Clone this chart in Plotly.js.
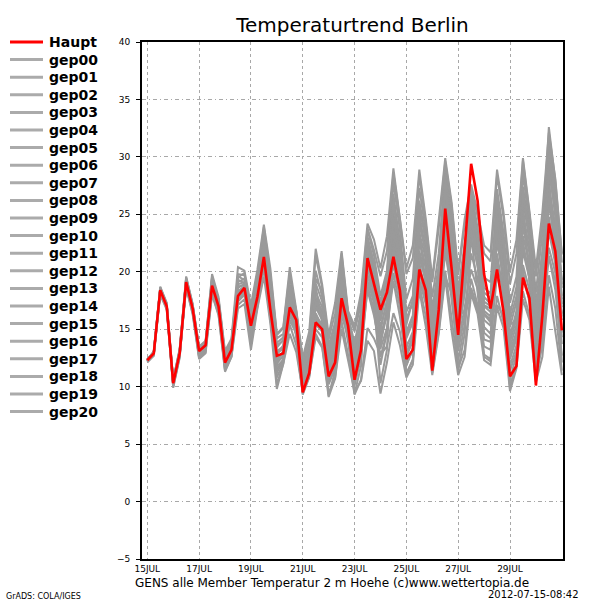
<!DOCTYPE html>
<html><head><meta charset="utf-8">
<script src="https://cdn.plot.ly/plotly-3.0.1.min.js"></script>
<style>html,body{margin:0;padding:0;background:#fff}#chart{width:600px;height:600px}</style>
</head><body><div id="chart"></div>
<script>
const stepHours = 6;
const tickHours = [0, 48, 96, 144, 192, 240, 288, 336];
const tickLabels = ['15JUL', '17JUL', '19JUL', '21JUL', '23JUL', '25JUL', '27JUL', '29JUL'];
const yTicks = [-5, 0, 5, 10, 15, 20, 25, 30, 35, 40];

const haupt = [12.3,12.9,18.4,17.0, 10.3,12.9,19.1,16.8, 13.1,13.6,18.8,17.0, 12.1,13.2,17.9,18.6, 15.3,17.8,21.3,16.7, 12.7,12.9,16.9,15.8, 9.5,11.2,15.6,15.0, 10.9,12.1,17.7,15.3, 10.6,13.2,21.2,19.0, 16.7,18.2,21.3,18.4, 12.4,13.2,20.2,18.4, 11.4,16.7,25.5,20.2, 14.5,22.0,29.4,26.2, 19.8,16.8,20.2,16.5, 10.9,11.8,19.5,17.7, 10.1,16.2,24.2,21.8, 14.9];

const gep00 = [12.3,12.9,18.5,17.1, 10.4,13.0,19.2,16.9, 13.0,13.5,18.9,17.1, 12.2,13.3,18.2,18.8, 15.1,17.6,21.6,17.0, 12.4,13.1,17.4,15.5, 10.1,11.8,16.4,15.2, 11.3,12.8,18.3,14.9, 11.6,14.1,20.4,18.1, 15.2,17.3,22.6,19.5, 13.6,14.5,21.4,19.2, 13.0,17.2,24.1,19.8, 15.6,19.8,25.2,22.1, 17.4,17.0,22.5,19.6, 13.2,14.6,21.8,19.4, 13.5,17.2,23.5,20.7, 15.8];
const gep01 = [12.2,12.8,18.1,16.8, 10.1,12.7,18.8,16.5, 12.7,13.2,18.3,16.6, 11.7,12.9,17.4,18.0, 14.6,17.3,20.8,16.2, 11.5,12.4,16.2,14.8, 9.8,11.0,15.0,14.3, 10.2,11.6,16.8,13.9, 10.1,12.5,18.8,16.7, 11.9,14.8,19.9,16.9, 11.8,13.4,19.3,17.2, 12.6,15.8,21.7,18.3, 13.8,16.9,20.2,18.5, 14.1,13.9,19.8,17.2, 11.4,13.1,20.6,18.4, 12.8,16.3,22.1,19.9, 13.7];
const gep02 = [12.4,13.0,18.7,17.3, 10.6,13.3,19.6,17.2, 13.5,14.0,19.6,17.6, 12.9,14.0,19.8,19.7, 16.4,19.2,23.6,19.4, 14.2,14.6,19.6,16.3, 11.6,13.4,20.1,17.8, 13.2,15.3,21.2,16.2, 13.8,16.6,23.7,21.4, 17.9,20.1,27.8,23.6, 17.6,19.4,27.3,23.4, 17.8,21.6,28.9,24.8, 18.4,22.3,26.5,23.6, 19.5,19.1,26.2,22.8, 16.3,18.7,27.4,23.3, 17.2,21.8,29.6,25.4, 19.3];
const gep03 = [12.3,12.9,18.2,17.0, 10.2,12.8,18.9,16.6, 12.9,13.4,18.5,16.8, 12.0,13.0,17.6,18.3, 15.8,18.0,20.2,16.0, 10.8,12.1,15.4,13.6, 9.4,10.9,14.6,13.5, 9.4,10.8,15.7,12.8, 9.3,10.6,15.1,14.2, 12.8,13.5,16.4,14.8, 11.2,12.3,18.9,16.1, 11.3,14.8,20.1,15.9, 11.6,13.2,18.6,16.8, 12.8,12.4,17.9,15.6, 10.1,11.9,18.3,16.2, 10.9,13.6,19.7,16.8, 11.4];
const gep04 = [12.2,13.0,18.6,17.2, 10.5,13.1,19.4,17.0, 13.3,13.8,19.2,17.4, 12.6,13.7,19.1,19.4, 16.9,19.4,22.8,18.1, 13.4,14.1,18.3,16.1, 10.6,12.4,17.8,16.4, 12.1,13.9,19.6,15.8, 12.7,15.4,22.6,20.3, 16.3,18.9,25.1,21.7, 14.8,16.2,24.6,22.1, 15.1,19.3,27.4,23.1, 17.2,20.6,24.1,21.3, 16.4,15.8,23.4,20.5, 14.6,16.1,24.7,21.6, 15.3,19.2,27.1,23.5, 17.6];
const gep05 = [12.1,12.7,18.4,16.9, 9.9,12.5,19.0,16.7, 12.5,13.0,19.4,16.9, 11.4,12.6,18.6,18.9, 13.6,17.1,22.4,17.4, 10.2,12.0,18.4,14.2, 9.3,10.8,18.7,15.6, 9.2,11.4,19.3,14.1, 9.4,11.8,21.8,17.6, 10.3,13.2,24.3,19.1, 11.0,12.4,23.5,18.6, 11.2,15.3,25.8,19.4, 11.4,14.6,23.2,18.2, 12.6,12.2,24.6,18.3, 9.8,12.0,25.9,19.1, 10.6,14.2,28.4,20.6, 12.1];
const gep06 = [12.4,12.9,18.3,17.0, 10.3,12.9,19.0,16.8, 13.2,13.6,18.6,17.2, 12.3,13.4,18.4,18.5, 15.6,18.3,22.1,17.8, 13.1,13.5,17.9,15.9, 10.8,12.6,16.9,15.8, 11.8,13.4,17.2,14.6, 12.3,14.7,19.2,17.3, 14.6,16.1,20.8,17.6, 13.0,14.1,22.6,20.3, 16.4,18.9,26.6,21.4, 14.9,18.1,22.8,20.6, 15.2,14.6,21.6,17.9, 12.4,14.2,23.1,20.8, 14.4,18.6,25.9,22.6, 16.3];
const gep07 = [12.3,13.1,18.5,17.2, 10.6,13.2,19.3,17.1, 13.4,13.9,19.0,17.3, 12.5,13.6,18.9,19.1, 16.2,18.6,22.9,18.6, 13.8,14.3,18.9,16.6, 11.9,13.8,19.4,18.3, 13.6,15.6,20.4,16.4, 14.8,17.2,19.6,18.5, 17.6,19.2,20.4,18.8, 16.8,16.9,18.7,17.9, 17.3,17.5,19.6,18.1, 16.7,16.3,18.2,16.6, 16.2,15.9,17.1,16.2, 15.4,15.8,19.3,17.6, 15.6,17.9,21.3,19.2, 16.4];
const gep08 = [12.2,12.8,18.3,16.9, 10.2,12.8,19.1,16.8, 13.1,13.5,18.7,16.9, 11.9,13.0,17.8,18.4, 14.9,17.6,21.0,16.5, 12.0,12.7,17.1,15.2, 10.4,12.0,16.2,15.4, 10.8,12.3,17.9,15.1, 11.1,13.6,20.9,18.8, 14.0,16.6,23.1,20.3, 12.6,14.0,21.8,19.6, 14.2,18.0,24.6,20.7, 16.1,20.9,27.1,23.8, 18.6,18.1,25.3,21.7, 15.8,17.9,28.6,24.1, 18.2,23.4,32.6,27.9, 21.5];
const gep09 = [12.3,12.8,18.4,17.1, 10.3,12.9,18.7,16.4, 12.6,13.1,18.1,16.3, 11.5,12.7,17.1,17.6, 14.2,16.9,20.4,15.8, 11.2,12.3,16.6,14.5, 10.0,11.5,17.3,15.9, 11.6,13.1,18.6,15.6, 11.9,14.4,22.4,19.6, 13.6,16.9,26.8,22.4, 15.4,17.6,25.2,21.3, 12.4,16.1,23.2,18.8, 13.1,16.2,21.6,19.4, 14.7,14.2,20.8,18.6, 12.8,14.8,22.3,19.8, 12.1,15.4,24.8,21.2, 14.3];
const gep10 = [12.4,13.0,18.6,17.1, 10.4,13.0,19.3,16.9, 13.2,13.8,19.5,17.6, 12.8,13.9,19.5,19.9, 16.6,19.6,23.9,19.8, 14.5,15.1,19.9,16.5, 12.2,14.3,21.4,18.6, 14.1,16.4,21.6,16.3, 15.1,17.6,23.8,21.9, 19.6,21.8,28.6,24.6, 19.8,21.2,28.4,24.2, 19.1,23.8,29.6,25.7, 19.7,24.1,27.3,24.8, 21.6,20.9,28.4,24.7, 18.9,21.6,29.7,25.1, 19.6,24.3,31.4,27.2, 20.8];
const gep11 = [12.2,12.7,18.0,16.7, 10.0,12.6,18.6,16.3, 12.4,12.9,18.0,16.2, 11.3,12.6,16.8,17.2, 13.2,16.8,19.6,15.5, 9.8,12.0,14.6,13.0, 9.6,10.9,14.3,13.4, 9.1,10.7,15.0,12.2, 9.6,10.5,14.0,13.1, 9.4,12.1,15.6,13.6, 10.8,11.9,18.4,15.2, 11.0,14.6,19.5,14.8, 11.0,12.6,18.1,16.3, 12.3,11.9,16.9,15.1, 9.6,11.6,17.6,15.8, 10.4,12.6,18.7,14.8, 11.0];
const gep12 = [12.3,12.9,18.4,17.0, 10.4,13.1,19.2,16.9, 13.0,13.6,18.9,17.0, 12.4,13.5,18.7,18.9, 15.9,18.8,22.5,18.3, 12.8,13.6,18.1,15.7, 10.9,12.8,18.2,16.9, 12.6,14.6,20.1,16.0, 13.2,15.8,23.1,20.6, 16.9,19.6,26.1,22.6, 15.9,17.4,26.2,22.8, 16.8,20.6,28.1,24.2, 17.9,21.4,25.8,22.8, 17.8,17.2,27.2,23.4, 17.3,19.6,28.9,24.6, 16.6,20.6,30.8,26.6, 18.6];
const gep13 = [12.3,12.8,18.2,16.9, 10.2,12.8,18.9,16.7, 12.9,13.4,18.6,16.9, 12.1,13.1,17.5,18.2, 15.4,17.7,21.4,17.1, 12.2,12.6,16.4,15.3, 9.7,11.3,15.4,14.8, 10.6,12.0,16.2,14.4, 10.4,12.9,19.8,17.4, 12.6,14.7,21.6,18.2, 11.9,13.2,20.8,18.1, 11.6,15.9,22.6,17.6, 12.3,15.4,19.4,17.1, 13.5,13.2,21.3,17.9, 10.6,12.8,20.1,17.3, 11.6,14.9,21.4,18.4, 12.7];
const gep14 = [12.2,12.9,18.5,17.1, 10.3,12.9,19.4,17.1, 13.4,13.9,19.8,17.8, 13.1,14.2,20.4,20.1, 17.1,20.2,24.1,20.3, 14.6,15.2,20.4,16.7, 12.5,14.8,22.0,18.9, 14.5,17.3,21.8,16.6, 15.3,18.2,24.2,22.8, 20.3,23.1,29.0,24.7, 20.3,22.3,28.9,24.6, 19.4,24.5,29.9,26.0, 20.0,24.6,27.6,25.2, 22.3,21.7,28.9,25.2, 20.0,22.8,29.9,25.3, 20.3,25.2,32.1,28.1, 21.6];
const gep15 = [12.4,13.0,18.6,17.2, 10.5,13.2,19.5,17.2, 13.3,13.7,18.9,17.2, 12.5,13.6,19.3,19.0, 15.7,17.9,22.2,17.7, 12.9,13.3,17.6,16.0, 11.2,12.9,17.6,16.6, 12.4,14.2,19.1,15.4, 12.9,15.0,21.4,19.2, 15.7,18.4,24.4,21.0, 14.2,15.6,23.4,21.1, 13.9,18.1,25.6,21.9, 16.6,20.4,26.1,23.0, 17.0,16.5,24.2,21.1, 13.9,15.9,26.3,22.7, 14.9,19.9,29.3,24.8, 17.2];
const gep16 = [12.3,12.9,18.3,16.9, 10.1,12.7,18.9,16.7, 12.8,13.3,18.4,16.6, 11.8,12.9,17.7,18.1, 14.8,17.4,20.7,16.3, 11.8,12.3,15.8,14.6, 10.3,11.6,16.1,14.9, 11.1,12.6,17.4,14.8, 11.3,13.4,18.4,16.2, 13.3,15.1,19.2,16.1, 12.2,13.1,20.1,17.4, 12.1,16.4,23.7,19.1, 14.4,18.2,23.8,20.4, 15.8,15.3,22.9,19.2, 11.8,13.6,22.6,19.4, 13.1,17.6,26.1,22.1, 14.7];
const gep17 = [12.2,12.8,18.4,17.0, 10.3,12.9,19.1,16.9, 13.2,13.7,19.1,17.3, 12.7,13.8,19.6,19.3, 16.1,18.7,23.1,18.9, 13.6,14.0,18.7,16.2, 11.4,13.1,19.0,17.4, 12.9,14.8,20.6,15.9, 13.5,16.1,22.9,20.8, 17.2,19.8,25.9,22.2, 16.5,17.9,25.7,22.6, 16.1,20.2,27.9,23.6, 17.6,21.8,25.2,22.2, 18.2,17.7,25.8,22.1, 15.2,17.4,27.2,23.4, 16.9,21.5,29.9,26.1, 18.9];
const gep18 = [12.3,12.9,18.5,17.0, 10.2,12.8,18.8,16.6, 12.9,13.3,18.4,16.7, 12.0,13.2,18.3,18.5, 15.3,18.1,21.8,17.3, 12.5,13.0,17.2,15.3, 10.2,12.1,17.0,16.1, 11.9,13.7,18.9,15.5, 11.8,14.3,21.1,18.4, 14.8,17.6,23.8,20.6, 13.4,14.8,22.9,20.4, 14.7,18.6,26.1,22.1, 15.8,19.3,24.4,21.7, 16.6,16.1,24.9,20.8, 13.4,15.4,25.2,21.9, 14.1,18.4,27.6,23.9, 16.9];
const gep19 = [12.4,13.0,18.6,17.2, 10.4,13.0,19.1,16.8, 13.1,13.5,18.7,16.8, 12.2,13.3,18.0,18.6, 15.0,17.6,21.2,16.9, 12.3,12.9,16.8,15.6, 9.9,11.6,15.8,15.3, 10.4,11.9,17.1,14.6, 10.8,13.3,20.6,18.2, 13.9,16.2,22.1,19.4, 12.9,14.4,21.2,19.4, 13.6,17.4,24.9,20.6, 14.8,19.2,24.6,21.4, 16.3,15.6,23.7,20.3, 12.9,14.5,24.1,20.6, 13.8,18.1,26.8,23.2, 16.1];
const gep20 = [12.3,12.9,18.4,17.1, 10.5,13.1,19.0,16.8, 13.2,13.7,18.9,17.1, 12.4,13.4,18.3,18.7, 15.5,18.2,22.3,17.6, 12.9,13.4,17.8,15.9, 10.7,12.4,17.4,16.3, 12.2,14.0,19.4,15.7, 12.5,15.1,22.1,19.8, 15.9,18.5,24.7,21.2, 14.5,16.0,24.1,21.7, 15.6,19.6,27.2,22.6, 16.4,20.2,25.6,22.7, 17.1,16.8,26.4,22.5, 14.3,16.6,26.9,22.9, 15.8,20.3,28.8,25.1, 17.9];

const memberNames = ['gep00','gep01','gep02','gep03','gep04','gep05','gep06','gep07','gep08','gep09','gep10','gep11','gep12','gep13','gep14','gep15','gep16','gep17','gep18','gep19','gep20'];
const memberValues = [gep00,gep01,gep02,gep03,gep04,gep05,gep06,gep07,gep08,gep09,gep10,gep11,gep12,gep13,gep14,gep15,gep16,gep17,gep18,gep19,gep20];

const hauptColor = '#ff0000';
const memberColor = '#9a9a9a';
const legendMemberColor = '#ababab';

const hours = haupt.map((_, i) => i * stepHours);

const traces = memberValues.map((vals, k) => ({
  x: hours, y: vals, type: 'scatter', mode: 'lines', name: memberNames[k],
  line: {color: memberColor, width: 2}, showlegend: false, hoverinfo: 'skip'
}));
traces.push({
  x: hours, y: haupt, type: 'scatter', mode: 'lines', name: 'Haupt',
  line: {color: hauptColor, width: 2.6}, showlegend: false
});

const plotL = 142, plotR = 563, plotT = 42, plotB = 559;
const pw = plotR - plotL, ph = plotB - plotT;
const px = X => (X - plotL) / pw;
const py = Y => (plotB - Y) / ph;

// hand-drawn legend block on the left (GrADS style)
const legendNames = ['Haupt'].concat(memberNames);
const legendColors = [hauptColor].concat(memberNames.map(() => legendMemberColor));
const rowTop = 42, rowStep = 17.6;
const legendShapes = legendNames.map((n, k) => ({
  type: 'line', xref: 'paper', yref: 'paper',
  x0: px(10), x1: px(43), y0: py(rowTop + k * rowStep), y1: py(rowTop + k * rowStep),
  line: {color: legendColors[k], width: 3}
}));
const legendTexts = legendNames.map((n, k) => ({
  text: n, xref: 'paper', yref: 'paper', x: px(47), y: py(rowTop + k * rowStep),
  xanchor: 'left', yanchor: 'middle', showarrow: false,
  font: {family: 'DejaVu Sans', size: 14, weight: 'bold', color: '#000'}
}));

const layout = {
  width: 600, height: 600,
  paper_bgcolor: '#ffffff', plot_bgcolor: '#ffffff',
  margin: {l: plotL, r: 600 - plotR, t: plotT, b: 600 - plotB, pad: 0},
  font: {family: 'DejaVu Sans', color: '#000000'},
  title: {text: 'Temperaturtrend Berlin', font: {family: 'DejaVu Sans', size: 20, color: '#000'},
          xref: 'paper', x: 0.5, xanchor: 'center', yref: 'container', y: 1 - 25 / 600, yanchor: 'middle'},
  showlegend: false,
  xaxis: {range: [-4.9, 385.1], tickvals: tickHours, ticktext: tickLabels,
          showgrid: true, gridcolor: '#a8a8a8', gridwidth: 1, griddash: 'dot',
          zeroline: false, showline: true, mirror: true, linecolor: '#000', linewidth: 2,
          ticks: '', tickfont: {family: 'DejaVu Sans', size: 9, color: '#000'}},
  yaxis: {range: [-5, 40], tickvals: yTicks, ticktext: yTicks.map(v => v < 0 ? '\u2212' + Math.abs(v) : String(v)),
          showgrid: true, gridcolor: '#a8a8a8', gridwidth: 1, griddash: '4px,3px,1px,3px',
          zeroline: false, showline: true, mirror: true, linecolor: '#000', linewidth: 2,
          ticks: 'outside', ticklen: 4, tickcolor: '#000', tickwidth: 1, ticklabelstandoff: 4,
          tickfont: {family: 'DejaVu Sans', size: 9, color: '#000'}},
  shapes: legendShapes,
  annotations: legendTexts.concat([
    {text: 'GENS alle Member Temperatur 2 m Hoehe (c)www.wettertopia.de', xref: 'paper', yref: 'paper',
     x: px(332), y: py(583), xanchor: 'center', yanchor: 'middle', showarrow: false,
     font: {family: 'DejaVu Sans', size: 12, color: '#000'}},
    {text: 'GrADS: COLA/IGES', xref: 'paper', yref: 'paper', x: px(4), y: py(596),
     xanchor: 'left', yanchor: 'middle', showarrow: false, font: {family: 'DejaVu Sans', size: 8, color: '#000'}},
    {text: '2012-07-15-08:42', xref: 'paper', yref: 'paper', x: px(581), y: py(594),
     xanchor: 'right', yanchor: 'middle', showarrow: false, font: {family: 'DejaVu Sans', size: 10, color: '#000'}}
  ])
};

Plotly.newPlot('chart', traces, layout, {staticPlot: true, displayModeBar: false});
</script></body></html>
